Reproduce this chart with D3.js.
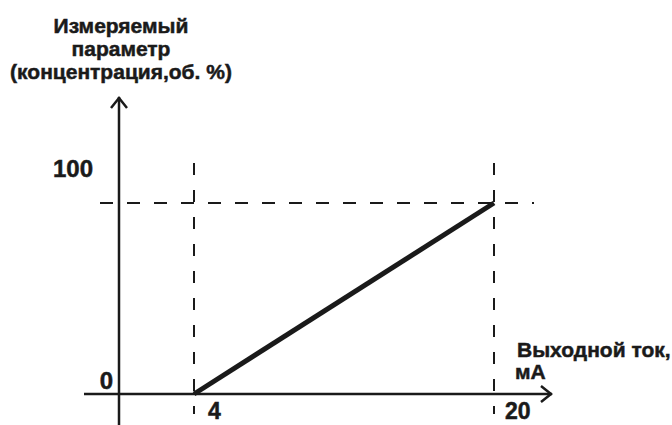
<!DOCTYPE html>
<html>
<head>
<meta charset="utf-8">
<script src="https://cdn.jsdelivr.net/npm/d3@7"></script>
<style>
  html, body { margin: 0; padding: 0; background: #fff; }
  svg { display: block; }
</style>
</head>
<body>
<div id="chart"></div>
<script>
// data
const currentTicks = [4, 20];          // мА
const currentLabels = ["4", "20"];
const paramTicks = [0, 100];           // об. %
const paramLabels = ["0", "100"];
const lineX = [4, 20];
const lineY = [0, 100];
const yTitle = ["Измеряемый", "параметр", "(концентрация,об. %)"];
const xTitle = ["Выходной ток,", "мА"];

const W = 672, H = 425;
const ink = "#1a1a1a";
const font = "Arial, 'Liberation Sans', sans-serif";

const svg = d3.select("#chart").append("svg")
  .attr("width", W)
  .attr("height", H);

svg.append("rect").attr("width", W).attr("height", H).attr("fill", "#fff");

const x = d3.scaleLinear().domain([0, 20]).range([119, 494]);
const y = d3.scaleLinear().domain([0, 100]).range([394, 203]);

// bold text helper (reference glyphs are heavy)
const boldText = (sel, size) => sel
  .attr("font-family", font)
  .attr("font-weight", "bold")
  .attr("font-size", size + "px")
  .attr("fill", ink)
  .attr("stroke", ink)
  .attr("stroke-width", 0.5);

// dashed guide lines
svg.selectAll("line.vguide")
  .data(currentTicks)
  .join("line")
  .attr("class", "vguide")
  .attr("x1", d => x(d)).attr("x2", d => x(d))
  .attr("y1", 163).attr("y2", 414)
  .attr("stroke", ink)
  .attr("stroke-width", 2)
  .attr("stroke-dasharray", "12,15");

svg.append("line")
  .attr("x1", 100).attr("x2", 534)
  .attr("y1", y(100)).attr("y2", y(100))
  .attr("stroke", ink)
  .attr("stroke-width", 2)
  .attr("stroke-dasharray", "13,14");

// axes
svg.append("line")
  .attr("x1", 84).attr("x2", 552)
  .attr("y1", y(0)).attr("y2", y(0))
  .attr("stroke", ink).attr("stroke-width", 2.5);

svg.append("line")
  .attr("x1", x(0)).attr("x2", x(0))
  .attr("y1", H).attr("y2", 97)
  .attr("stroke", ink).attr("stroke-width", 2.5);

// arrow heads
svg.append("path")
  .attr("d", `M${x(0) - 8},${108} L${x(0)},${98} L${x(0) + 8},${108}`)
  .attr("fill", "none").attr("stroke", ink).attr("stroke-width", 2.5);

svg.append("path")
  .attr("d", `M${541},${y(0) - 8} L${551},${y(0)} L${541},${y(0) + 8}`)
  .attr("fill", "none").attr("stroke", ink).attr("stroke-width", 2.5);

// the characteristic
svg.append("path")
  .datum(lineX.map((d, i) => [d, lineY[i]]))
  .attr("d", d3.line().x(d => x(d[0])).y(d => y(d[1])))
  .attr("fill", "none")
  .attr("stroke", ink)
  .attr("stroke-width", 5);

// tick labels
svg.selectAll("text.xt")
  .data(currentTicks)
  .join("text")
  .attr("class", "xt")
  .attr("x", (d, i) => x(d) + (i === 0 ? 14 : 11))
  .attr("y", 419)
  .text((d, i) => currentLabels[i])
  .call(boldText, 23);

svg.selectAll("text.yt")
  .data(paramTicks)
  .join("text")
  .attr("class", "yt")
  .attr("x", d => d === 0 ? 113 : 93)
  .attr("y", d => d === 0 ? y(d) - 5 : y(d) - 26)
  .attr("text-anchor", "end")
  .text((d, i) => paramLabels[i])
  .call(boldText, 24);

// axis titles
svg.selectAll("text.ytitle")
  .data(yTitle)
  .join("text")
  .attr("class", "ytitle")
  .attr("x", 121)
  .attr("y", (d, i) => 33 + i * 23)
  .attr("text-anchor", "middle")
  .text(d => d)
  .call(boldText, 21);

svg.selectAll("text.xtitle")
  .data(xTitle)
  .join("text")
  .attr("class", "xtitle")
  .attr("x", (d, i) => i === 0 ? 517 : 515)
  .attr("y", (d, i) => 357 + i * 22)
  .text(d => d)
  .call(boldText, 21);
</script>
</body>
</html>
